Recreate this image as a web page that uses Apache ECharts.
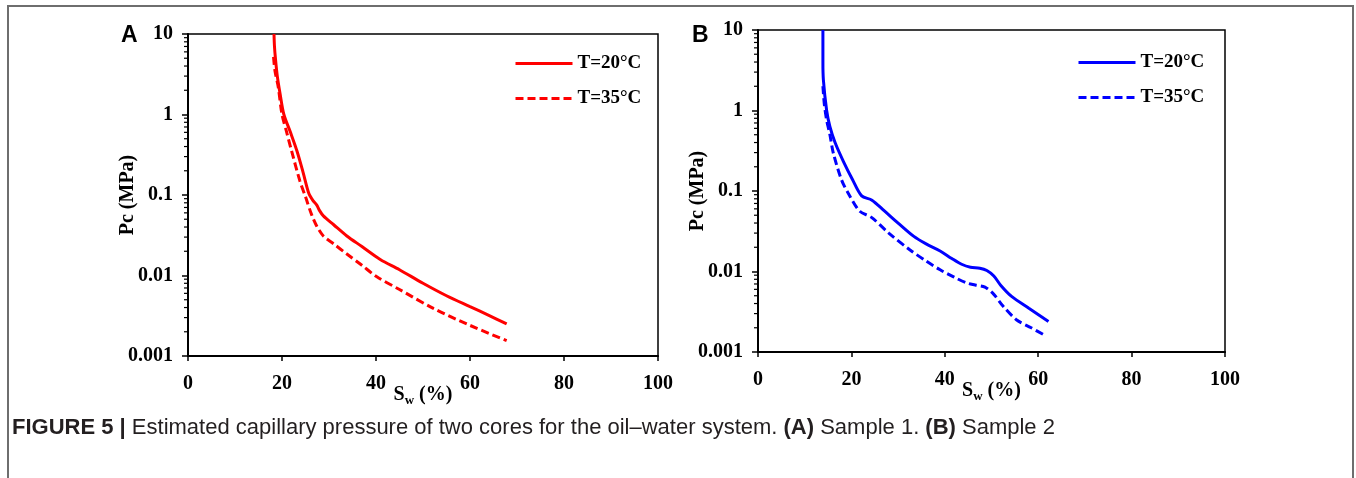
<!DOCTYPE html>
<html>
<head>
<meta charset="utf-8">
<script src="https://cdn.jsdelivr.net/npm/echarts@6/dist/echarts.min.js"></script>
<style>
  html, body { margin: 0; padding: 0; background: #fff; }
  #chart { width: 1356px; height: 478px; }
</style>
</head>
<body>
<div id="chart"></div>
<script>
// Sample 1 (panel A)
var aSw20 = [18.3, 18.4, 18.6, 19.0, 19.6, 20.4, 21.8, 23.2, 24.5, 25.7, 26.6, 27.4, 28.0, 28.8, 31, 33.8, 37, 40.9, 45, 50, 55, 60, 64, 67.8];
var aPc20 = [10, 7, 5, 3, 1.8, 1, 0.6, 0.35, 0.19, 0.105, 0.085, 0.075, 0.064, 0.055, 0.0427, 0.031, 0.0229, 0.0158, 0.0118, 0.008, 0.0056, 0.0041, 0.0032, 0.0025];
var aSw35 = [18.2, 18.5, 19.2, 20.0, 21.0, 22.0, 23.8, 25.0, 26.3, 27.4, 28.8, 31, 33.8, 37, 40.1, 45, 52.2, 60, 67.8];
var aPc35 = [5.2, 3.5, 2.2, 1, 0.6, 0.36, 0.15, 0.095, 0.057, 0.041, 0.031, 0.0247, 0.0185, 0.0134, 0.0097, 0.0067, 0.0039, 0.0024, 0.00155];

// Sample 2 (panel B)
var bSw20 = [13.9, 13.9, 14.0, 14.7, 15.4, 16.5, 18.3, 20.2, 22.2, 24.4, 27, 30, 33.3, 36, 39, 41.5, 43.6, 45.5, 47.5, 49, 50.5, 52, 54.3, 58, 62.2];
var bPc20 = [10, 4, 2.4, 1, 0.63, 0.4, 0.232, 0.14, 0.087, 0.077, 0.057, 0.04, 0.0275, 0.022, 0.018, 0.0145, 0.0123, 0.0113, 0.011, 0.0103, 0.0088, 0.0067, 0.0049, 0.0035, 0.0024];
var bSw35 = [13.9, 14.2, 14.7, 15.4, 16.1, 17.9, 19.5, 21.8, 24.3, 28, 32.5, 36, 39, 42, 44.7, 46.5, 48.6, 50.5, 52.5, 55.4, 58.5, 61.5];
var bPc35 = [2.0, 1.2, 0.76, 0.5, 0.3, 0.137, 0.09, 0.056, 0.047, 0.03, 0.0186, 0.0135, 0.0105, 0.0085, 0.0072, 0.0068, 0.0064, 0.0052, 0.0037, 0.0025, 0.002, 0.0016];

var seriesNames = ['T=20°C', 'T=35°C'];
var yDecades = [0.001, 0.01, 0.1, 1, 10];

function pairs(xs, ys) {
    return xs.map(function (x, i) { return [x, ys[i]]; });
}

// minor ticks 2..9 in every decade of the log axis
var minorTicks = [];
yDecades.slice(0, -1).forEach(function (d) {
    for (var m = 2; m <= 9; m++) minorTicks.push([0, d * m]);
});

var serif = '"Liberation Serif", "Times New Roman", serif';
var sans = '"Liberation Sans", Arial, sans-serif';
var lblStyle = { color: '#000', fontFamily: serif, fontWeight: 'bold', fontSize: 20 };

function xAxisFor(idx) {
    return {
        type: 'value', gridIndex: idx, min: 0, max: 100, interval: 20,
        name: '{s|S}{sub|w}{s| (%)}',
        nameLocation: 'middle', nameGap: 27, nameMoveOverlap: false,
        nameTextStyle: {
            rich: {
                s: { fontFamily: serif, fontWeight: 'bold', fontSize: 20, color: '#000', lineHeight: 24 },
                sub: { fontFamily: serif, fontWeight: 'bold', fontSize: 13, color: '#000', lineHeight: 24, verticalAlign: 'bottom', padding: [8, 0, 0, 0] }
            }
        },
        axisLine: { lineStyle: { color: '#000', width: 2 } },
        axisTick: { show: true, inside: false, length: 5, lineStyle: { color: '#000', width: 1.5 } },
        axisLabel: Object.assign({ margin: 18 }, lblStyle),
        splitLine: { show: false }
    };
}

function yAxisFor(idx) {
    return {
        type: 'log', gridIndex: idx, logBase: 10, min: 0.001, max: 10,
        name: 'Pc (MPa)', nameLocation: 'middle', nameGap: 50, nameRotate: 90, nameMoveOverlap: false,
        nameTextStyle: lblStyle,
        axisLine: { lineStyle: { color: '#000', width: 2 } },
        axisTick: { show: true, inside: false, length: 6, lineStyle: { color: '#000', width: 1.5 } },
        axisLabel: Object.assign({
            margin: 15,
            formatter: function (v) { return String(+v.toPrecision(3)); }
        }, lblStyle),
        splitLine: { show: false }
    };
}

function tickSeries(idx) {
    return {
        type: 'custom', xAxisIndex: idx, yAxisIndex: idx, clip: false, silent: true,
        data: minorTicks,
        renderItem: function (params, api) {
            var p = api.coord([api.value(0), api.value(1)]);
            return {
                type: 'line',
                shape: { x1: p[0] - 4, y1: p[1], x2: p[0], y2: p[1] },
                style: { stroke: '#000', lineWidth: 1.2 }
            };
        }
    };
}

function lineSeries(idx, name, data, color, dashed) {
    return {
        type: 'line', name: name, xAxisIndex: idx, yAxisIndex: idx,
        data: data, smooth: 0.3, symbol: 'none', showSymbol: false,
        lineStyle: { color: color, width: 3, type: dashed ? [8, 4] : 'solid' },
        itemStyle: { color: color }
    };
}

var legendText = { color: '#000', fontFamily: serif, fontWeight: 'bold', fontSize: 19 };

var option = {
    animation: false,
    backgroundColor: '#fff',
    grid: [
        { left: 188, top: 34, width: 470, height: 322, show: true, borderColor: '#000', borderWidth: 1.5, backgroundColor: 'transparent' },
        { left: 758, top: 30, width: 467, height: 322, show: true, borderColor: '#000', borderWidth: 1.5, backgroundColor: 'transparent' }
    ],
    xAxis: [xAxisFor(0), xAxisFor(1)],
    yAxis: [yAxisFor(0), yAxisFor(1)],
    legend: [
        { left: 509, top: 49, orient: 'vertical', itemWidth: 57, itemHeight: 14, itemGap: 16,
          data: [{ name: seriesNames[0] }, { name: seriesNames[1] }], textStyle: legendText,
          itemStyle: { opacity: 0 }, lineStyle: { width: 3 }, selectedMode: false },
        { left: 1072, top: 48, orient: 'vertical', itemWidth: 57, itemHeight: 14, itemGap: 16,
          data: [{ name: seriesNames[0] + ' ' }, { name: seriesNames[1] + ' ' }], textStyle: legendText,
          itemStyle: { opacity: 0 }, lineStyle: { width: 3 }, selectedMode: false }
    ],
    series: [
        lineSeries(0, seriesNames[0], pairs(aSw20, aPc20), '#ff0000', false),
        lineSeries(0, seriesNames[1], pairs(aSw35, aPc35), '#ff0000', true),
        lineSeries(1, seriesNames[0] + ' ', pairs(bSw20, bPc20), '#0000ff', false),
        lineSeries(1, seriesNames[1] + ' ', pairs(bSw35, bPc35), '#0000ff', true),
        tickSeries(0),
        tickSeries(1)
    ],
    graphic: [
        { type: 'rect', shape: { x: 8, y: 6, width: 1345, height: 520 }, style: { fill: 'none', stroke: '#6e6e6e', lineWidth: 2 }, silent: true },
        { type: 'text', left: 121, top: 24, style: { text: 'A', font: 'bold 23px ' + sans, fill: '#000' } },
        { type: 'text', left: 692, top: 24, style: { text: 'B', font: 'bold 23px ' + sans, fill: '#000' } },
        { type: 'text', left: 12, top: 417, style: {
            text: '{b|FIGURE 5 |} {n|Estimated capillary pressure of two cores for the oil–water system.} {b|(A)} {n|Sample 1.} {b|(B)} {n|Sample 2}',
            rich: {
                b: { fontFamily: sans, fontWeight: 'bold', fontSize: 22, fill: '#231f20', color: '#231f20' },
                n: { fontFamily: sans, fontSize: 22, fill: '#231f20', color: '#231f20' }
            },
            fontFamily: sans, fontSize: 22
        } }
    ]
};

var chart = echarts.init(document.getElementById('chart'), null, { renderer: 'canvas' });
chart.setOption(option);
</script>
</body>
</html>
